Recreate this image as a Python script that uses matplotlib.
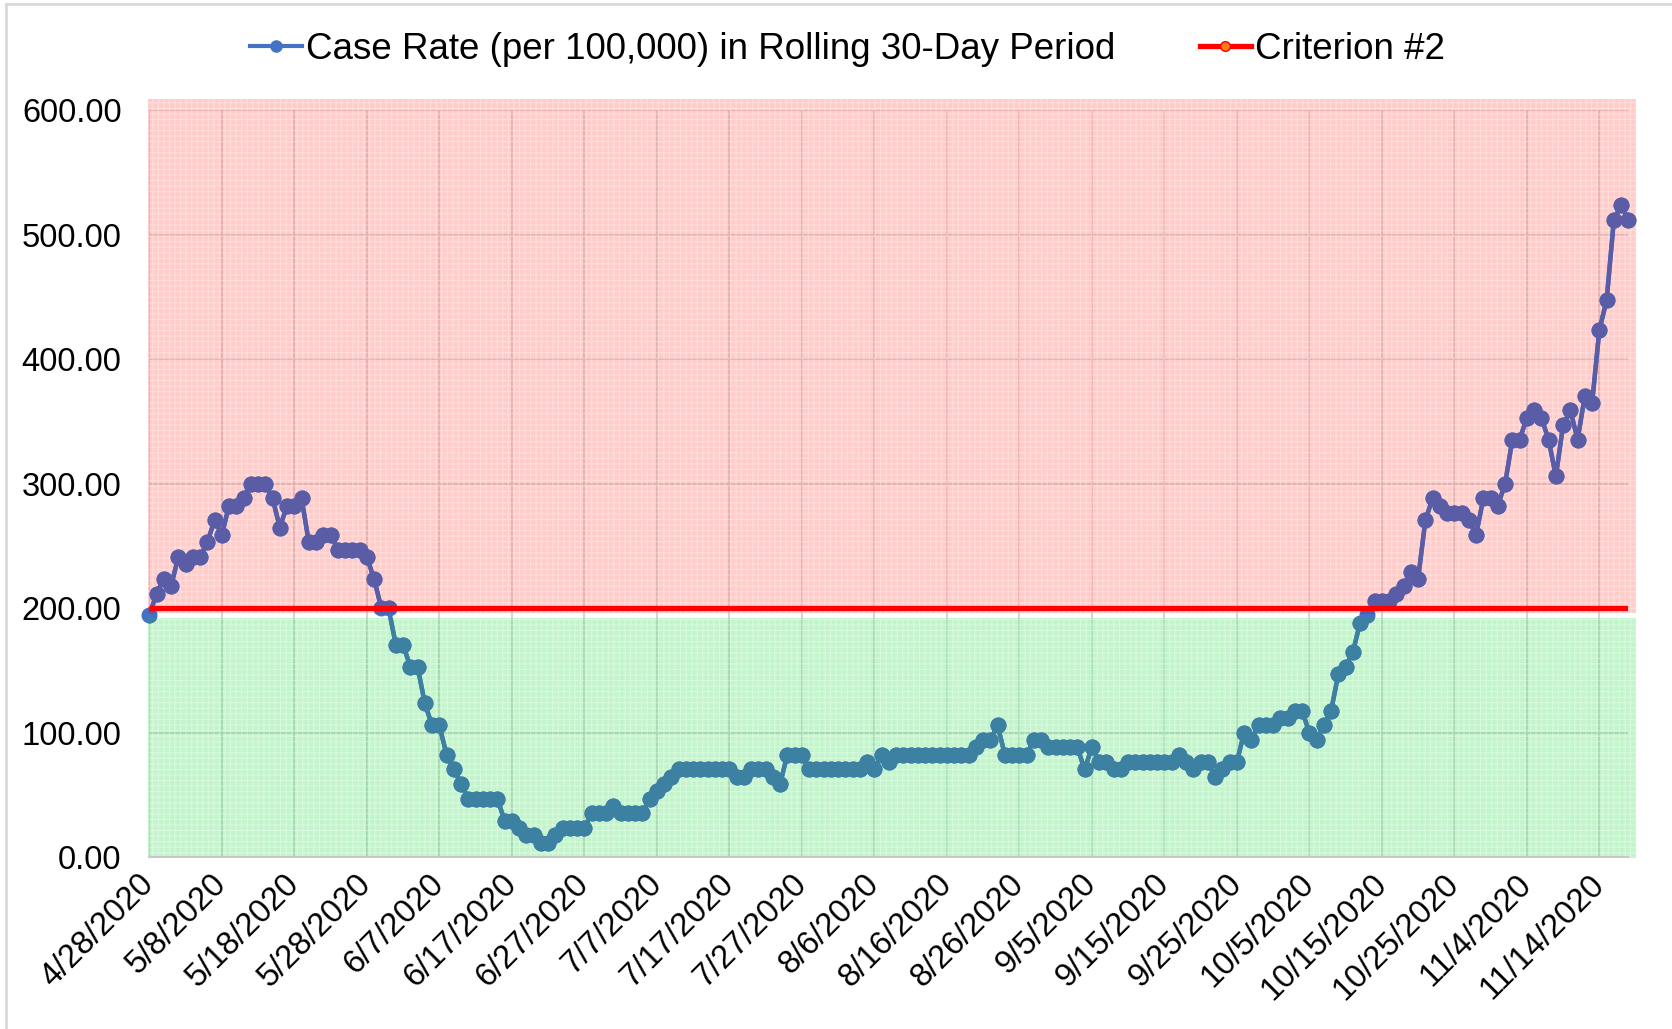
import numpy as np
import pandas as pd
import matplotlib
matplotlib.use("Agg")
import matplotlib.pyplot as plt
import matplotlib.dates as mdates
from matplotlib.patches import Rectangle
from matplotlib.lines import Line2D

plt.rcParams["font.family"] = ["Liberation Sans", "DejaVu Sans"]
plt.rcParams["hatch.linewidth"] = 0.8

# ── Data ──────────────────────────────────────────────────────────────────────
START_DATE = "2020-04-28"

CASE_RATE = [
    194.21, 211.86, 223.63, 217.75, 241.29, 235.40, 241.29, 241.29, 253.06, 270.71,
    258.94, 282.48, 282.48, 288.37, 300.14, 300.14, 300.14, 288.37, 264.83, 282.48,
    282.48, 288.37, 253.06, 253.06, 258.94, 258.94, 247.17, 247.17, 247.17, 247.17,
    241.29, 223.63, 200.09, 200.09, 170.67, 170.67, 153.01, 153.01, 123.59, 105.93,
    105.93, 82.39, 70.62, 58.85, 47.08, 47.08, 47.08, 47.08, 47.08, 29.43,
    29.43, 23.54, 17.66, 17.66, 11.77, 11.77, 17.66, 23.54, 23.54, 23.54,
    23.54, 35.31, 35.31, 35.31, 41.20, 35.31, 35.31, 35.31, 35.31, 47.08,
    52.97, 58.85, 64.74, 70.62, 70.62, 70.62, 70.62, 70.62, 70.62, 70.62,
    70.62, 64.74, 64.74, 70.62, 70.62, 70.62, 64.74, 58.85, 82.39, 82.39,
    82.39, 70.62, 70.62, 70.62, 70.62, 70.62, 70.62, 70.62, 70.62, 76.51,
    70.62, 82.39, 76.51, 82.39, 82.39, 82.39, 82.39, 82.39, 82.39, 82.39,
    82.39, 82.39, 82.39, 82.39, 88.28, 94.16, 94.16, 105.93, 82.39, 82.39,
    82.39, 82.39, 94.16, 94.16, 88.28, 88.28, 88.28, 88.28, 88.28, 70.62,
    88.28, 76.51, 76.51, 70.62, 70.62, 76.51, 76.51, 76.51, 76.51, 76.51,
    76.51, 76.51, 82.39, 76.51, 70.62, 76.51, 76.51, 64.74, 70.62, 76.51,
    76.51, 100.05, 94.16, 105.93, 105.93, 105.93, 111.82, 111.82, 117.70, 117.70,
    100.05, 94.16, 105.93, 117.70, 147.13, 153.01, 164.78, 188.32, 194.21, 205.98,
    205.98, 205.98, 211.86, 217.75, 229.52, 223.63, 270.71, 288.37, 282.48, 276.60,
    276.60, 276.60, 270.71, 258.94, 288.37, 288.37, 282.48, 300.14, 335.45, 335.45,
    353.10, 358.99, 353.10, 335.45, 306.02, 347.22, 358.99, 335.45, 370.76, 364.87,
    423.72, 447.26, 512.00, 523.77, 512.00,
]
CRITERION = 200.0

TICK_LABELS = [
    "4/28/2020", "5/8/2020", "5/18/2020", "5/28/2020", "6/7/2020", "6/17/2020",
    "6/27/2020", "7/7/2020", "7/17/2020", "7/27/2020", "8/6/2020", "8/16/2020",
    "8/26/2020", "9/5/2020", "9/15/2020", "9/25/2020", "10/5/2020", "10/15/2020",
    "10/25/2020", "11/4/2020", "11/14/2020",
]
Y_TICKS = [0, 100, 200, 300, 400, 500, 600]

SERIES_LABEL = "Case Rate (per 100,000) in Rolling 30-Day Period"
CRITERION_LABEL = "Criterion #2"

# zone limits (the shaded shapes sit a little off the 200 line)
RED_ZONE = (196.5, 608.8)
GREEN_ZONE = (-0.5, 192.0)

# ── Figure ────────────────────────────────────────────────────────────────────
dates = pd.date_range(START_DATE, periods=len(CASE_RATE), freq="D")
x = mdates.date2num(dates)

fig = plt.figure(figsize=(16.72, 10.29), dpi=100, facecolor="white")
ax = fig.add_axes([0.0893, 0.1669, 0.8846, 0.7259])

ax.set_xlim(x[0], x[-1])
ax.set_ylim(0, 600)

ax.set_xticks(x[::10])
ax.set_xticklabels(TICK_LABELS, rotation=45, ha="right", va="center",
                   rotation_mode="anchor", fontsize=23.5)
ax.set_yticks(Y_TICKS)
ax.set_yticklabels([f"{v:.2f}" for v in Y_TICKS], fontsize=23.5)
ax.tick_params(axis="both", length=0)
ax.tick_params(axis="y", pad=20)
ax.tick_params(axis="x", pad=16)
ax.grid(True, color="#d0d0d0", linewidth=1.3, zorder=0)
ax.set_axisbelow(True)
for side in ["top", "right", "left"]:
    ax.spines[side].set_visible(False)
ax.spines["bottom"].set_color("#c8c8c8")
ax.spines["bottom"].set_linewidth(1.5)

# shaded zones
x0 = x[0] - 0.18
x1 = x[-1] + 1.05
zones = [
    (RED_ZONE, (1.0, 0.50, 0.47, 0.40), "#5A5CA6"),
    (GREEN_ZONE, (0.35, 0.90, 0.45, 0.36), "#3C80A2"),
]
for (lo, hi), face, _ in zones:
    ax.add_patch(Rectangle((x0, lo), x1 - x0, hi - lo, facecolor=face,
                           edgecolor=(1.0, 1.0, 1.0, 0.35), hatch="+++",
                           linewidth=0, zorder=1, clip_on=False))

# data line: plain blue, then tinted copies clipped to each zone
base, = ax.plot(x, CASE_RATE, color="#4472C4", linewidth=3.2, marker="o",
                markersize=10.5, zorder=2)
base.set_clip_path(Rectangle((x[0] - 5, -20), (x[-1] - x[0]) + 10, 700,
                             transform=ax.transData))
for (lo, hi), _, tint in zones:
    seg, = ax.plot(x, CASE_RATE, color=tint, linewidth=3.2, marker="o",
                   markersize=10.5, zorder=2.1)
    seg.set_clip_path(Rectangle((x0, lo), x1 - x0, hi - lo,
                                transform=ax.transData))

# criterion line
ax.plot(x, np.full(len(x), CRITERION), color="#FF0000", linewidth=3.8,
        zorder=4, solid_capstyle="butt")

# legend
handles = [
    Line2D([], [], color="#4472C4", linewidth=3, marker="o", markersize=8),
    Line2D([], [], color="#FF0000", linewidth=3.8, marker="o", markersize=7,
           markerfacecolor="#FF7A1A", markeredgecolor="#FF0000"),
]
fig.legend(handles, [SERIES_LABEL, CRITERION_LABEL], loc="center",
           bbox_to_anchor=(0.507, 0.952), ncol=2, frameon=False, fontsize=26.5,
           handlelength=1.4, handletextpad=0.1, columnspacing=2.3)

# chart-area border (top and left edges visible)
fig.add_artist(Line2D([6 / 1672, 1], [1 - 4 / 1029, 1 - 4 / 1029],
                      transform=fig.transFigure, color="#d9d9d9", linewidth=2))
fig.add_artist(Line2D([6 / 1672, 6 / 1672], [0, 1 - 4 / 1029],
                      transform=fig.transFigure, color="#d9d9d9", linewidth=2))

fig.savefig("out.png", dpi=100, facecolor="white")
